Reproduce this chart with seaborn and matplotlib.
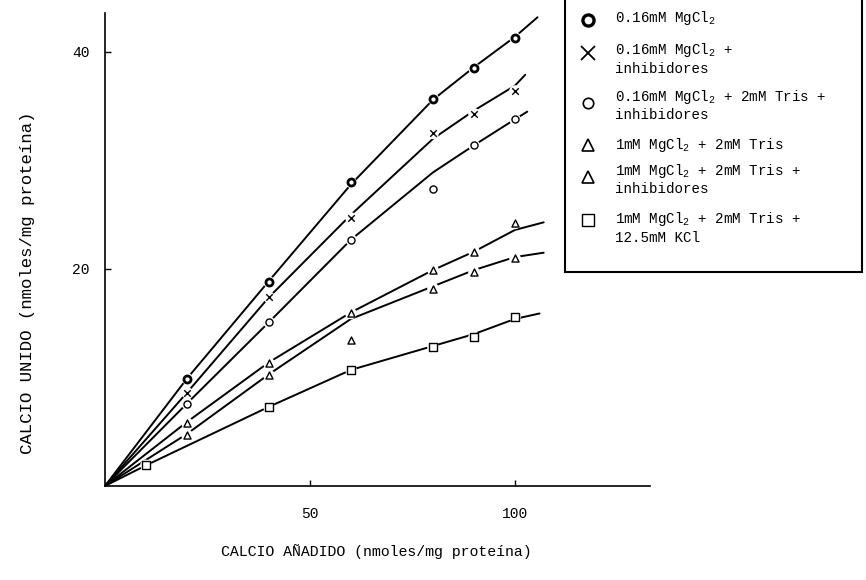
import matplotlib
matplotlib.use("Agg")
import matplotlib.pyplot as plt
import seaborn as sns
import pandas as pd
from matplotlib.lines import Line2D
from matplotlib.patches import Rectangle

# ---------------- data ----------------
labels = [
    "0.16mM MgCl$_\\mathrm{2}$",
    "0.16mM MgCl$_\\mathrm{2}$ +\ninhibidores",
    "0.16mM MgCl$_\\mathrm{2}$ + 2mM Tris +\ninhibidores",
    "1mM MgCl$_\\mathrm{2}$ + 2mM Tris",
    "1mM MgCl$_\\mathrm{2}$ + 2mM Tris +\ninhibidores",
    "1mM MgCl$_\\mathrm{2}$ + 2mM Tris +\n12.5mM KCl",
]

# measured points (markers)
s1_x = [20, 40, 60, 80, 90, 100]
s1_y = [9.9, 18.8, 28.0, 35.7, 38.5, 41.3]
s2_x = [20, 40, 60, 80, 90, 100]
s2_y = [8.6, 17.4, 24.7, 32.5, 34.3, 36.4]
s3_x = [20, 40, 60, 80, 90, 100]
s3_y = [7.6, 15.1, 22.7, 27.4, 31.4, 33.8]
s4_x = [20, 40, 60, 80, 90, 100]
s4_y = [5.8, 11.3, 15.9, 19.9, 21.6, 24.2]
s5_x = [20, 40, 60, 80, 90, 100]
s5_y = [4.7, 10.2, 13.5, 18.2, 19.7, 21.0]
s6_x = [10, 40, 60, 80, 90, 100]
s6_y = [1.9, 7.3, 10.7, 12.8, 13.7, 15.6]

# hand-drawn fitted curves
c1_x = [0, 20, 40, 60, 80, 90, 100, 105.5]
c1_y = [0, 9.9, 18.9, 27.8, 35.6, 38.6, 41.4, 43.2]
c2_x = [0, 20, 40, 60, 80, 90, 100, 102.5]
c2_y = [0, 8.6, 17.4, 25.0, 32.0, 34.6, 36.9, 37.9]
c3_x = [0, 20, 40, 60, 80, 90, 100, 103]
c3_y = [0, 7.6, 15.1, 22.7, 28.9, 31.4, 33.8, 34.5]
c4_x = [0, 20, 40, 60, 80, 90, 100, 107]
c4_y = [0, 5.9, 11.4, 16.0, 19.9, 21.6, 23.6, 24.3]
c5_x = [0, 20, 40, 60, 80, 90, 100, 107]
c5_y = [0, 4.8, 10.3, 15.4, 18.4, 19.9, 21.1, 21.5]
c6_x = [0, 10, 40, 60, 80, 90, 100, 106]
c6_y = [0, 1.9, 7.3, 10.7, 12.9, 14.0, 15.4, 15.9]

x_ticks = [50, 100]
y_ticks = [20, 40]
x_label = "CALCIO AÑADIDO (nmoles/mg proteína)"
y_label = "CALCIO UNIDO (nmoles/mg proteína)"

points = [(s1_x, s1_y), (s2_x, s2_y), (s3_x, s3_y), (s4_x, s4_y), (s5_x, s5_y), (s6_x, s6_y)]
curves = [(c1_x, c1_y), (c2_x, c2_y), (c3_x, c3_y), (c4_x, c4_y), (c5_x, c5_y), (c6_x, c6_y)]
markers = ["o", "x", "o", "^", "^", "s"]
marker_lw = [2.0, 1.0, 1.0, 1.0, 1.0, 1.0]

# ---------------- style ----------------
sns.set_theme(style="white")
FONT = ["Liberation Mono", "DejaVu Sans Mono"]
plt.rcParams["font.family"] = FONT
plt.rcParams["mathtext.fontset"] = "custom"
plt.rcParams["mathtext.rm"] = "Liberation Mono"
plt.rcParams["mathtext.it"] = "Liberation Mono"
plt.rcParams["axes.edgecolor"] = "black"

fig = plt.figure(figsize=(8.66, 5.8), dpi=100)
fig.patch.set_facecolor("white")
ax = fig.add_axes([0.1212, 0.1621, 0.6297, 0.8156])
ax.set_facecolor("white")

for (cx, cy) in curves:
    df = pd.DataFrame({"x": cx, "y": cy})
    sns.lineplot(data=df, x="x", y="y", ax=ax, color="black", lw=1.4,
                 sort=False, estimator=None, zorder=2)

for (px, py), m, mlw in zip(points, markers, marker_lw):
    df = pd.DataFrame({"x": px, "y": py})
    # white halo to break the line around each point
    sns.scatterplot(data=df, x="x", y="y", ax=ax, marker="o", s=70,
                    color="white", edgecolor="none", zorder=3)
    if m == "x":
        sns.scatterplot(data=df, x="x", y="y", ax=ax, marker="x", s=22,
                        color="black", linewidth=mlw, zorder=4)
    else:
        sns.scatterplot(data=df, x="x", y="y", ax=ax, marker=m, s=26,
                        facecolor="white", edgecolor="black", linewidth=mlw, zorder=4)

ax.set_xlim(0, 133)
ax.set_ylim(0, 43.6)
ax.set_xticks(x_ticks)
ax.set_yticks(y_ticks)
ax.set_xticklabels([str(v) for v in x_ticks])
ax.set_yticklabels([str(v) for v in y_ticks])
ax.tick_params(axis="x", direction="in", length=4, width=1, pad=15,
               labelsize=10.5, colors="black", bottom=True)
ax.tick_params(axis="y", direction="in", length=4, width=1, pad=11,
               labelsize=10.5, colors="black", left=True)
ax.set_xlabel("")
ax.set_ylabel("")
for side in ["top", "right"]:
    ax.spines[side].set_visible(False)
for side in ["left", "bottom"]:
    ax.spines[side].set_linewidth(1.2)
    ax.spines[side].set_color("black")

fig.text(376 / 866, 1 - 552 / 580, x_label, ha="center", va="center",
         fontsize=10.7, color="black")
fig.text(28 / 866, 1 - 283 / 580, y_label, ha="center", va="center",
         rotation=90, fontsize=12.5, color="black")

# ---------------- legend (drawn in pixel coordinates) ----------------
lax = fig.add_axes([565 / 866, 1 - 272 / 580, 1 - 565 / 866, 272 / 580])
lax.set_xlim(565, 866)
lax.set_ylim(272, 0)
lax.axis("off")
lax.add_patch(Rectangle((565, -10), 297, 282, fill=False, edgecolor="black",
                        lw=1.5, clip_on=False))
marker_y = [20, 53, 103, 145, 177, 220]
text_y = [18, 58.5, 105, 145, 179, 227.5]
leg_ms = [8, 10, 7.5, 8, 8.5, 8]
leg_lw = [2.4, 1.3, 1.2, 1.2, 1.2, 1.0]
for m, my, ty, lab, ms, lw in zip(markers, marker_y, text_y, labels, leg_ms, leg_lw):
    lax.add_line(Line2D([588], [my], marker=m, markersize=ms, markerfacecolor="white",
                        markeredgecolor="black", markeredgewidth=lw, color="black",
                        linestyle="none", clip_on=False))
    lax.text(615, ty, lab, ha="left", va="center", fontsize=10.2, color="black",
             linespacing=1.25)

fig.savefig("out.png", dpi=100, facecolor="white")
